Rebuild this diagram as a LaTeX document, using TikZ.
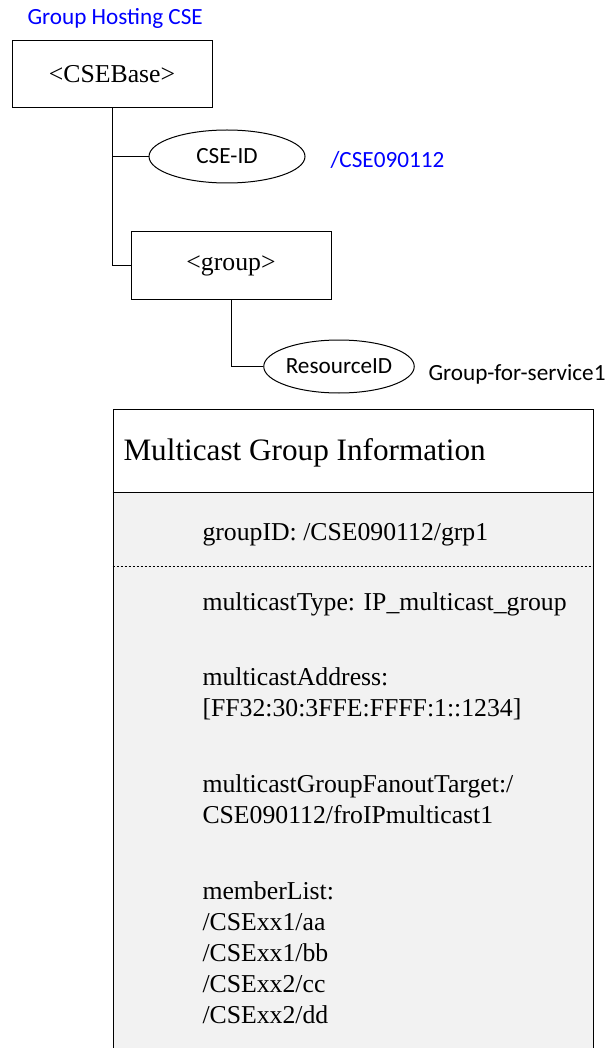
\documentclass[tikz,border=0pt]{standalone}
\usepackage{fontspec}
\setmainfont{Liberation Serif}
\newfontfamily\labelfont{Carlito}
\usetikzlibrary{positioning,shapes.geometric}
\definecolor{hostblue}{RGB}{0,0,255}
\definecolor{infogray}{RGB}{242,242,242}

\begin{document}
\begin{tikzpicture}[x=0.75pt, y=-0.75pt, line width=0.75pt, font=\fontsize{19.3}{23.25}\selectfont]
\tikzstyle{res}=[rectangle, draw, minimum width=150pt, minimum height=50.5pt, inner sep=0pt]
\tikzstyle{attr}=[ellipse, draw, minimum height=39.75pt, inner sep=0pt, font=\labelfont\fontsize{17.4}{21}\selectfont]
\tikzstyle{note}=[anchor=base west, inner sep=0pt, font=\labelfont\fontsize{17.4}{21}\selectfont]
\tikzstyle{entry}=[anchor=base west, inner sep=0pt, align=left]
\useasboundingbox (0,0) rectangle (608,1048);
\clip (0,0) rectangle (608,1048);
\node[note, text=hostblue] (host) at (27,25) {Group Hosting CSE};
\node[res] (base) at (112,74) {<CSEBase>};
\node[attr, minimum width=117pt] (cseid) at (227,156.5) {CSE-ID};
\node[note, text=hostblue] (cseval) at (330,168) {/CSE090112};
\node[res] (grp) at (231,265.5) {<group>};
\node[attr, minimum width=109.5pt] (resid) at (339,366.5) {ResourceID};
\node[note] (resval) at (428,380) {Group-for-service1};
\draw (base.south) |- (grp.west);
\draw (base.south |- cseid.west) -- (cseid.west);
\draw (grp.south) |- (resid.west);
\fill[infogray] (113,492) rectangle (593,1060);
\node[draw, minimum width=360pt, minimum height=488.25pt, inner sep=0pt] (info) at (353,734.5) {};
\coordinate (head) at (0,492);
\coordinate (split) at (0,566);
\draw (info.west |- head) -- (info.east |- head);
\draw[dash pattern=on 2pt off 1pt] (info.west |- split) -- (info.east |- split);
\node[anchor=base west, inner sep=0pt, font=\fontsize{23.4}{28}\selectfont] (title) at (123,460) {Multicast Group Information};
\node[entry] (gid) at (202,540) {groupID: /CSE090112/grp1};
\node[entry] (mtype) at (202,610) {multicastType: IP\_multicast\_group};
\node[entry] (maddr) at (202,716) {multicastAddress:\\{[FF32:30:3FFE:FFFF:1::1234]}};
\node[entry] (fanout) at (202,823) {multicastGroupFanoutTarget:/\\CSE090112/froIPmulticast1};
\node[entry] (members) at (202,1023) {memberList:\\/CSExx1/aa\\/CSExx1/bb\\/CSExx2/cc\\/CSExx2/dd};
\end{tikzpicture}
\end{document}
